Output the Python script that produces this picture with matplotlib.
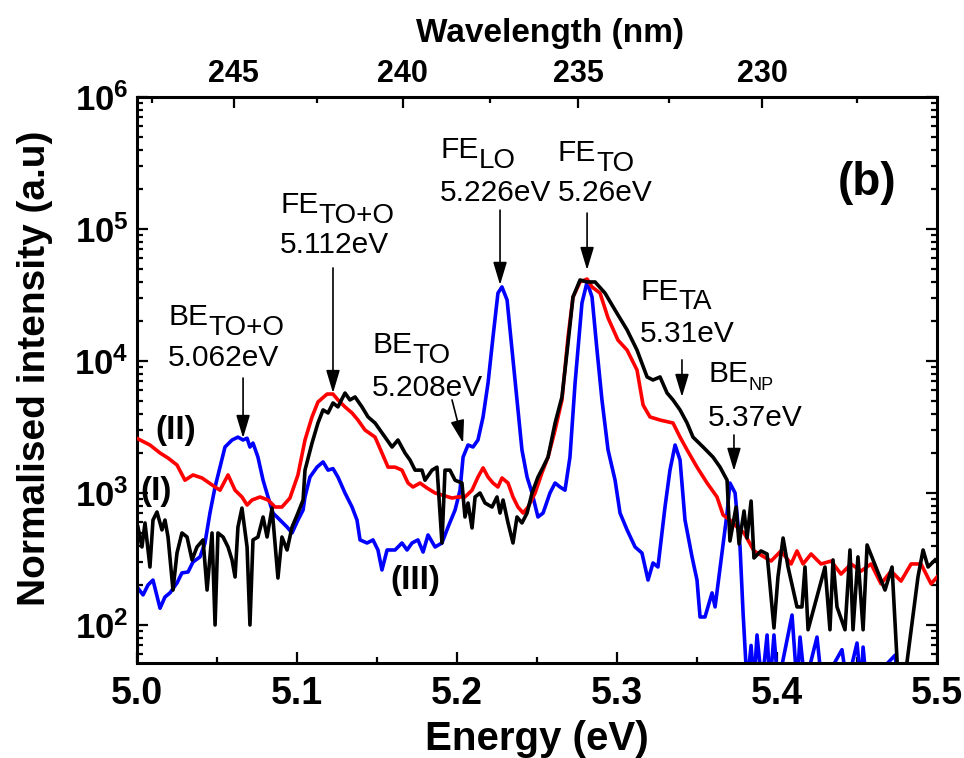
import numpy as np
import matplotlib
matplotlib.use('Agg')
import matplotlib.pyplot as plt
from matplotlib.ticker import FixedLocator, FuncFormatter, LogLocator, NullFormatter, MultipleLocator

plt.rcParams['font.family'] = ['Liberation Sans', 'DejaVu Sans']
plt.rcParams['mathtext.fontset'] = 'custom'
plt.rcParams['mathtext.rm'] = 'Liberation Sans'
plt.rcParams['mathtext.bf'] = 'Liberation Sans:bold'
plt.rcParams['mathtext.it'] = 'Liberation Sans:italic'

# curve (II) - red
e_red = [5.0006, 5.0081, 5.0144, 5.0194, 5.0250, 5.0300, 5.0350, 5.0406, 5.0488, 5.0519,
         5.0569, 5.0613, 5.0656, 5.0688, 5.0719, 5.0769, 5.0819, 5.0863, 5.0906, 5.0956,
         5.1006, 5.1050, 5.1094, 5.1131, 5.1188, 5.1225, 5.1256, 5.1300, 5.1344, 5.1381,
         5.1425, 5.1488, 5.1531, 5.1569, 5.1613, 5.1656, 5.1694, 5.1725, 5.1769, 5.1813,
         5.1863, 5.1906, 5.1969, 5.2006, 5.2050, 5.2094, 5.2131, 5.2163, 5.2194, 5.2225,
         5.2256, 5.2281, 5.2319, 5.2350, 5.2381, 5.2413, 5.2444, 5.2488, 5.2531, 5.2569,
         5.2613, 5.2656, 5.2694, 5.2725, 5.2769, 5.2813, 5.2844, 5.2894, 5.2944, 5.3006,
         5.3063, 5.3125, 5.3163, 5.3206, 5.3269, 5.3350, 5.3394, 5.3438, 5.3500, 5.3563,
         5.3625, 5.3663, 5.3706, 5.3750, 5.3794, 5.3856, 5.3919, 5.3963, 5.4025, 5.4088,
         5.4125, 5.4163, 5.4213, 5.4275, 5.4338, 5.4400, 5.4463, 5.4525, 5.4588, 5.4650,
         5.4713, 5.4775, 5.4838, 5.4900, 5.4963, 5.5000]
i_red = [2570, 2310, 2010, 1840, 1630, 1250, 1370, 1300, 1110, 1050,
         1370, 1050, 933, 811, 885, 933, 885, 783, 783, 916,
         1370, 2520, 3770, 4890, 5620, 5620, 5070, 4490, 4040, 3570,
         3000, 2650, 2010, 1570, 1570, 1490, 1190, 1110, 1190, 1090,
         1000, 966, 916, 933, 933, 1050, 1320, 1550, 1320, 1190,
         1110, 1300, 1190, 933, 783, 705, 783, 1000, 1420, 1870,
         3000, 5070, 15200, 30500, 39700, 41800, 36400, 32700, 21200, 14400,
         12100, 8550, 4640, 3770, 3570, 3390, 2650, 2120, 1570, 1190,
         933, 681, 624, 552, 498, 364, 328, 305, 364, 290,
         364, 290, 345, 290, 305, 243, 290, 256, 290, 205,
         256, 215, 290, 290, 205, 231]

# curve (I) - black
e_blk = [5.0006, 5.0031, 5.0050, 5.0081, 5.0100, 5.0125, 5.0156, 5.0175, 5.0194, 5.0225,
         5.0250, 5.0281, 5.0313, 5.0344, 5.0375, 5.0413, 5.0438, 5.0469, 5.0488, 5.0506,
         5.0538, 5.0569, 5.0594, 5.0613, 5.0631, 5.0656, 5.0688, 5.0706, 5.0725, 5.0756,
         5.0788, 5.0813, 5.0844, 5.0881, 5.0906, 5.0938, 5.0969, 5.1006, 5.1038, 5.1050,
         5.1094, 5.1131, 5.1163, 5.1194, 5.1225, 5.1256, 5.1300, 5.1331, 5.1363, 5.1406,
         5.1444, 5.1488, 5.1519, 5.1550, 5.1594, 5.1631, 5.1675, 5.1706, 5.1738, 5.1781,
         5.1800, 5.1844, 5.1875, 5.1906, 5.1925, 5.1956, 5.1988, 5.2031, 5.2050, 5.2069,
         5.2094, 5.2113, 5.2144, 5.2175, 5.2219, 5.2250, 5.2269, 5.2288, 5.2319, 5.2350,
         5.2375, 5.2406, 5.2438, 5.2469, 5.2506, 5.2538, 5.2569, 5.2613, 5.2656, 5.2694,
         5.2725, 5.2769, 5.2813, 5.2863, 5.2925, 5.2988, 5.3063, 5.3125, 5.3188, 5.3225,
         5.3269, 5.3313, 5.3350, 5.3394, 5.3438, 5.3475, 5.3538, 5.3600, 5.3644, 5.3688,
         5.3706, 5.3744, 5.3763, 5.3794, 5.3813, 5.3838, 5.3856, 5.3900, 5.3938, 5.3981,
         5.4006, 5.4038, 5.4069, 5.4125, 5.4156, 5.4175, 5.4194, 5.4300, 5.4331, 5.4350,
         5.4375, 5.4425, 5.4456, 5.4475, 5.4506, 5.4538, 5.4563, 5.4675, 5.4719, 5.4756,
         5.4800, 5.4881, 5.4913, 5.4944, 5.4988]
i_blk = [552, 390, 593, 275, 624, 718, 525, 624, 464, 184,
         351, 498, 464, 311, 390, 441, 184, 498, 100, 498,
         464, 390, 311, 231, 552, 769, 390, 100, 441, 464,
         658, 464, 769, 227, 464, 370, 552, 705, 885, 1490,
         2390, 3390, 4260, 4040, 4810, 4490, 5720, 5070, 5340, 4490,
         3770, 3390, 3000, 2650, 2230, 2520, 2010, 1780, 1490, 1490,
         1250, 1490, 1570, 418, 1490, 1490, 1250, 1190, 658, 840,
         543, 933, 1000, 840, 783, 933, 705, 885, 593, 418,
         658, 593, 705, 1000, 1320, 1570, 1870, 3390, 5340, 13700,
         30500, 41100, 39700, 39700, 32700, 24300, 17200, 12100, 7570, 7180,
         7570, 5720, 5070, 4260, 3390, 2650, 2230, 1870, 1570, 1250,
         433, 783, 411, 731, 456, 869, 322, 364, 345, 95,
         231, 456, 275, 137, 137, 275, 92, 275, 92, 311,
         137, 92, 370, 92, 328, 92, 404, 184, 275, 40,
         40, 231, 370, 275, 311]

# curve (III) - blue
e_blu = [5.0006, 5.0038, 5.0069, 5.0100, 5.0144, 5.0175, 5.0206, 5.0250, 5.0281, 5.0319,
         5.0350, 5.0394, 5.0425, 5.0456, 5.0488, 5.0519, 5.0550, 5.0594, 5.0631, 5.0663,
         5.0688, 5.0706, 5.0725, 5.0756, 5.0788, 5.0819, 5.0850, 5.0894, 5.0938, 5.0969,
         5.1006, 5.1038, 5.1050, 5.1081, 5.1125, 5.1163, 5.1194, 5.1225, 5.1256, 5.1300,
         5.1344, 5.1375, 5.1394, 5.1438, 5.1475, 5.1506, 5.1531, 5.1563, 5.1613, 5.1656,
         5.1688, 5.1719, 5.1756, 5.1788, 5.1819, 5.1863, 5.1906, 5.1944, 5.1988, 5.2019,
         5.2038, 5.2069, 5.2100, 5.2131, 5.2163, 5.2194, 5.2225, 5.2256, 5.2281, 5.2313,
         5.2344, 5.2375, 5.2406, 5.2438, 5.2469, 5.2506, 5.2538, 5.2581, 5.2613, 5.2644,
         5.2675, 5.2706, 5.2738, 5.2781, 5.2813, 5.2844, 5.2875, 5.2906, 5.2944, 5.2988,
         5.3019, 5.3063, 5.3113, 5.3156, 5.3194, 5.3225, 5.3256, 5.3300, 5.3331, 5.3363,
         5.3394, 5.3425, 5.3469, 5.3500, 5.3519, 5.3550, 5.3594, 5.3613, 5.3656, 5.3688,
         5.3706, 5.3738, 5.3769, 5.3788, 5.3813, 5.3838, 5.3856, 5.3875, 5.3906, 5.3938,
         5.3956, 5.3981, 5.4006, 5.4094, 5.4125, 5.4144, 5.4175, 5.4250, 5.4281, 5.4406,
         5.4438, 5.4500, 5.4525, 5.4538, 5.4560, 5.4738, 5.4760, 5.5000]
i_blu = [190, 169, 201, 219, 134, 163, 175, 208, 248, 252,
         300, 328, 418, 705, 1110, 1570, 2230, 2520, 2650, 2520,
         2600, 2230, 2390, 1870, 1250, 933, 705, 624, 552, 498,
         624, 743, 933, 1320, 1570, 1720, 1490, 1530, 1320, 1000,
         783, 624, 441, 418, 441, 370, 261, 370, 370, 418,
         370, 418, 441, 357, 481, 390, 418, 552, 743, 1050,
         1870, 2310, 2230, 2520, 3770, 6810, 15200, 32700, 36400, 29000,
         12100, 5070, 2120, 1320, 1000, 658, 705, 1000, 1190, 1110,
         1050, 1870, 6810, 27500, 39700, 30500, 12100, 5070, 2120, 1250,
         705, 525, 390, 351, 219, 295, 275, 783, 1490, 2310,
         1780, 624, 328, 219, 115, 115, 175, 137, 351, 705,
         1190, 1000, 390, 123, 35, 70, 35, 84, 35, 84,
         35, 84, 35, 119, 35, 81, 35, 81, 35, 65,
         35, 73, 35, 68, 35, 59, 35, 35]

wl_major = [245, 240, 235, 230]
wl_minor = [247.5, 242.5, 237.5, 232.5, 227.5]
hc = 1239.84

fig = plt.figure(figsize=(9.64, 7.58), dpi=100)
ax = fig.add_axes([0.1421, 0.1253, 0.8299, 0.7467])

ax.plot(e_red, i_red, color='#ff0000', lw=2.6, zorder=3)
ax.plot(e_blk, i_blk, color='black', lw=2.6, zorder=4)
ax.plot(e_blu, i_blu, color='#0000ff', lw=2.6, zorder=2)

ax.set_yscale('log')
ax.set_xlim(5.0, 5.5)
ax.set_ylim(51.5, 1e6)

ax.xaxis.set_major_locator(MultipleLocator(0.1))
ax.xaxis.set_minor_locator(MultipleLocator(0.05))
ax.xaxis.set_major_formatter(FuncFormatter(lambda v, p: f'{v:.1f}'))
ax.yaxis.set_major_locator(LogLocator(base=10, numticks=10))
ax.yaxis.set_minor_locator(LogLocator(base=10, subs=np.arange(2, 10), numticks=100))
ax.yaxis.set_minor_formatter(NullFormatter())
ax.yaxis.set_major_formatter(FuncFormatter(lambda v, p: r'$\mathbf{10^{%d}}$' % round(np.log10(v))))

for s in ax.spines.values():
    s.set_linewidth(2.2)
ax.tick_params(which='both', direction='in', width=1.6, top=False, right=True)
ax.tick_params(which='major', length=8)
ax.tick_params(which='minor', length=4.5)
ax.tick_params(axis='x', which='major', labelsize=27, pad=9)
ax.tick_params(axis='y', which='major', labelsize=25, pad=6)
for t in ax.get_xticklabels():
    t.set_fontweight('bold')

ax.set_xlabel('Energy (eV)', fontsize=29, fontweight='bold', labelpad=6)
ax.set_ylabel('Normalised intensity (a.u)', fontsize=28, fontweight='bold', labelpad=15)
ax.yaxis.label.set_y(0.52)

with np.errstate(divide='ignore'):
    sec = ax.secondary_xaxis('top', functions=(lambda e: hc / e, lambda w: hc / w))
sec.xaxis.set_major_locator(FixedLocator(wl_major))
sec.xaxis.set_minor_locator(FixedLocator(wl_minor))
sec.tick_params(which='both', direction='in', width=1.6)
sec.tick_params(which='major', length=8, labelsize=22, pad=6)
sec.tick_params(which='minor', length=4.5)
for t in sec.get_xticklabels():
    t.set_fontweight('bold')
sec.set_xlabel('Wavelength (nm)', fontsize=24, fontweight='bold', labelpad=12)
sec.xaxis.label.set_x(0.516)

def label(x, y, main, sub, val, size=21.5, subsize=20, dy=-8):
    t = ax.text(x, y, main, fontsize=size, ha='left', va='center')
    ax.annotate(sub, xy=(1, 0.5), xycoords=t, xytext=(0, dy),
                textcoords='offset points', fontsize=subsize, ha='left', va='center')
    ax.text(x, val[0], val[1], fontsize=size, ha='left', va='center')

label(5.0194, 21500, 'BE', 'TO+O', (10500, '5.062eV'))
label(5.0894, 152000, 'FE', 'TO+O', (75700, '5.112eV'))
label(5.1469, 13200, 'BE', 'TO', (6240, '5.208eV'))
label(5.1894, 396000, 'FE', 'LO', (187000, '5.226eV'))
label(5.2631, 376000, 'FE', 'TO', (187000, '5.26eV'))
label(5.3144, 33300, 'FE', 'TA', (16000, '5.31eV'), dy=-7)
label(5.3569, 7980, 'BE', 'NP', (3700, '5.37eV'), subsize=13, dy=-8)

arrow = dict(arrowstyle='-|>,head_length=1.0,head_width=0.3', color='black', lw=1.2,
             shrinkA=0, shrinkB=0, mutation_scale=14)
ax.annotate('', xy=(5.0663, 2610), xytext=(5.0663, 7430), arrowprops=arrow)
ax.annotate('', xy=(5.1225, 5720), xytext=(5.1225, 50700), arrowprops=arrow)
ax.annotate('', xy=(5.2038, 2390), xytext=(5.1969, 5070), arrowprops=arrow)
ax.annotate('', xy=(5.2269, 37700), xytext=(5.2269, 139000), arrowprops=arrow)
ax.annotate('', xy=(5.2813, 48900), xytext=(5.2813, 132000), arrowprops=arrow)
ax.annotate('', xy=(5.3406, 5340), xytext=(5.3406, 10200), arrowprops=arrow)
ax.annotate('', xy=(5.3731, 1470), xytext=(5.3731, 2750), arrowprops=arrow)

ax.text(5.4381, 223000, '(b)', fontsize=33, fontweight='bold', ha='left', va='center')
ax.text(5.0113, 3000, '(II)', fontsize=24, fontweight='bold', ha='left', va='center')
ax.text(5.0019, 1020, '(I)', fontsize=24, fontweight='bold', ha='left', va='center')
ax.text(5.1581, 219, '(III)', fontsize=24, fontweight='bold', ha='left', va='center')

fig.savefig('out.png', dpi=100)
